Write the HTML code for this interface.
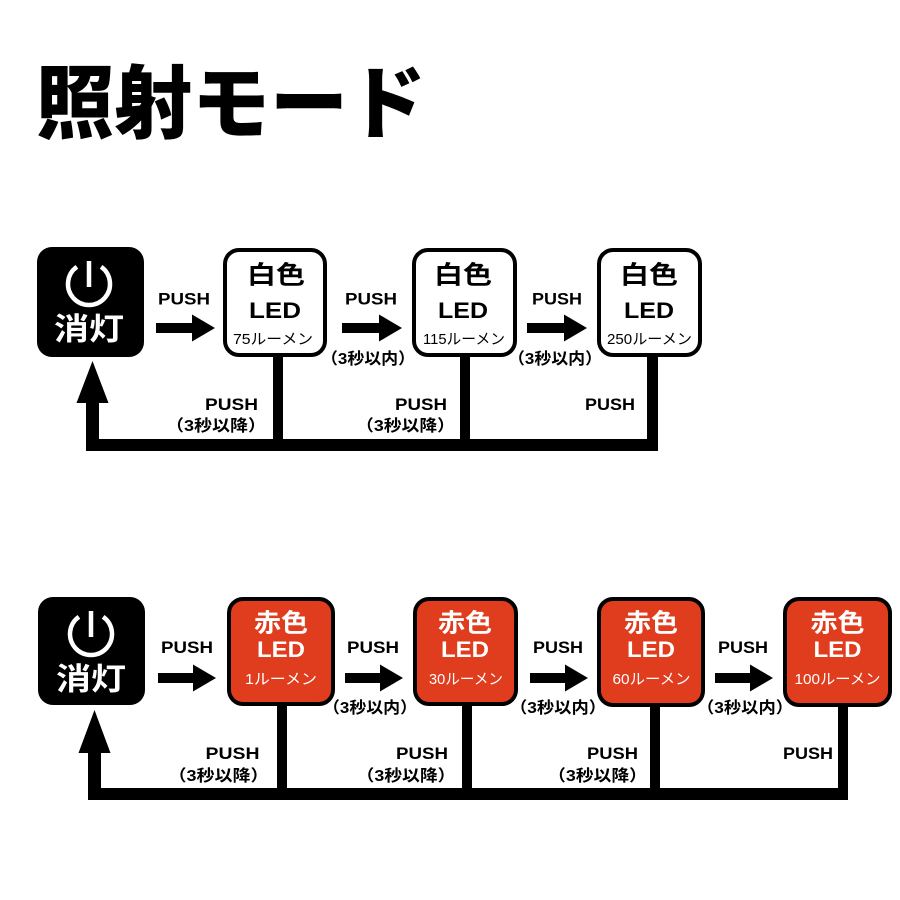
<!DOCTYPE html>
<html><head><meta charset="utf-8"><style>
html,body{margin:0;padding:0;background:#fff;}
svg{display:block;}
.jp{font-family:"Liberation Sans","Noto Sans CJK JP",sans-serif;font-weight:700;}
.lat{font-family:"Liberation Sans",sans-serif;font-weight:700;}
.lm{font-family:"Liberation Sans","Noto Sans CJK JP",sans-serif;font-weight:400;}
</style></head><body>
<svg width="900" height="900" viewBox="0 0 900 900" xmlns="http://www.w3.org/2000/svg">
<rect width="900" height="900" fill="#fff"/>
<!-- Title -->
<text x="36" y="132" class="jp" font-size="80" style="font-weight:900" fill="#000" textLength="390" lengthAdjust="spacingAndGlyphs">照射モード</text>

<!-- ========== TOP ROW ========== -->
<rect x="37" y="247" width="107" height="110" rx="15" fill="#000"/>
<path d="M 76.9 266.8 A 21 21 0 1 0 101.1 266.8" fill="none" stroke="#fff" stroke-width="4.5"/>
<line x1="89" y1="261" x2="89" y2="287" stroke="#fff" stroke-width="4.5"/>
<text x="89" y="340" class="jp" font-size="31" fill="#fff" text-anchor="middle" textLength="70" lengthAdjust="spacingAndGlyphs">消灯</text>

<rect x="225" y="250" width="100" height="105" rx="14" fill="#fff" stroke="#000" stroke-width="4"/>
<rect x="414" y="250" width="101" height="105" rx="14" fill="#fff" stroke="#000" stroke-width="4"/>
<rect x="599" y="250" width="101" height="105" rx="14" fill="#fff" stroke="#000" stroke-width="4"/>

<g fill="#000">
<text x="276" y="283.5" class="jp" font-size="25" text-anchor="middle" textLength="58" lengthAdjust="spacingAndGlyphs">白色</text>
<text x="275" y="318" class="lat" font-size="22" text-anchor="middle" textLength="52" lengthAdjust="spacingAndGlyphs">LED</text>
<text x="273" y="344" class="lm" font-size="15" text-anchor="middle" textLength="80" lengthAdjust="spacingAndGlyphs">75ルーメン</text>

<text x="463" y="283.5" class="jp" font-size="25" text-anchor="middle" textLength="58" lengthAdjust="spacingAndGlyphs">白色</text>
<text x="463" y="318" class="lat" font-size="22" text-anchor="middle" textLength="50" lengthAdjust="spacingAndGlyphs">LED</text>
<text x="464" y="344" class="lm" font-size="15" text-anchor="middle" textLength="82" lengthAdjust="spacingAndGlyphs">115ルーメン</text>

<text x="649" y="283.5" class="jp" font-size="25" text-anchor="middle" textLength="58" lengthAdjust="spacingAndGlyphs">白色</text>
<text x="649" y="318" class="lat" font-size="22" text-anchor="middle" textLength="50" lengthAdjust="spacingAndGlyphs">LED</text>
<text x="649.5" y="344" class="lm" font-size="15" text-anchor="middle" textLength="85" lengthAdjust="spacingAndGlyphs">250ルーメン</text>
</g>

<g fill="#000">
<rect x="156" y="323" width="37" height="10"/><polygon points="192,314.5 215,328 192,341.5"/>
<rect x="342" y="323" width="38" height="10"/><polygon points="379,314.5 402,328 379,341.5"/>
<rect x="527" y="323" width="38" height="10"/><polygon points="564,314.5 587,328 564,341.5"/>
</g>
<g fill="#000">
<text x="184" y="304.5" class="lat" font-size="17" text-anchor="middle" textLength="52" lengthAdjust="spacingAndGlyphs">PUSH</text>
<text x="371" y="304.5" class="lat" font-size="17" text-anchor="middle" textLength="52" lengthAdjust="spacingAndGlyphs">PUSH</text>
<text x="557" y="304.5" class="lat" font-size="17" text-anchor="middle" textLength="50" lengthAdjust="spacingAndGlyphs">PUSH</text>
<text x="368" y="364" class="jp" font-size="16" text-anchor="middle" textLength="94" lengthAdjust="spacingAndGlyphs">（3秒以内）</text>
<text x="555" y="364" class="jp" font-size="16" text-anchor="middle" textLength="94" lengthAdjust="spacingAndGlyphs">（3秒以内）</text>
</g>

<g fill="#000">
<rect x="273" y="357" width="10" height="94"/>
<rect x="460" y="357" width="10" height="94"/>
<rect x="647" y="357" width="11" height="94"/>
<rect x="86" y="439" width="572" height="12"/>
<rect x="86" y="400" width="13" height="51"/>
<polygon points="92.5,361 108.5,403 76.5,403"/>
<text x="231.5" y="410" class="lat" font-size="17" text-anchor="middle" textLength="53" lengthAdjust="spacingAndGlyphs">PUSH</text>
<text x="216" y="431" class="jp" font-size="16" text-anchor="middle" textLength="100" lengthAdjust="spacingAndGlyphs">（3秒以降）</text>
<text x="421" y="410" class="lat" font-size="17" text-anchor="middle" textLength="52" lengthAdjust="spacingAndGlyphs">PUSH</text>
<text x="405.5" y="431" class="jp" font-size="16" text-anchor="middle" textLength="99" lengthAdjust="spacingAndGlyphs">（3秒以降）</text>
<text x="610" y="410" class="lat" font-size="17" text-anchor="middle" textLength="50" lengthAdjust="spacingAndGlyphs">PUSH</text>
</g>

<!-- ========== BOTTOM ROW ========== -->
<rect x="38" y="597" width="107" height="108" rx="15" fill="#000"/>
<path d="M 78.9 616.8 A 21 21 0 1 0 103.1 616.8" fill="none" stroke="#fff" stroke-width="4.5"/>
<line x1="91" y1="611" x2="91" y2="637" stroke="#fff" stroke-width="4.5"/>
<text x="91" y="690" class="jp" font-size="31" fill="#fff" text-anchor="middle" textLength="70" lengthAdjust="spacingAndGlyphs">消灯</text>

<g fill="#E03C1E" stroke="#000" stroke-width="4">
<rect x="229" y="599" width="104" height="105" rx="14"/>
<rect x="415" y="599" width="101" height="105" rx="14"/>
<rect x="599" y="599" width="104" height="106" rx="14"/>
<rect x="785" y="599" width="105" height="106" rx="14"/>
</g>

<g fill="#fff">
<text x="281" y="631.5" class="jp" font-size="25" text-anchor="middle" textLength="54" lengthAdjust="spacingAndGlyphs">赤色</text>
<text x="281" y="657" class="lat" font-size="22" text-anchor="middle" textLength="48" lengthAdjust="spacingAndGlyphs">LED</text>
<text x="281" y="684" class="lm" font-size="15" text-anchor="middle" textLength="72" lengthAdjust="spacingAndGlyphs">1ルーメン</text>

<text x="465" y="631.5" class="jp" font-size="25" text-anchor="middle" textLength="54" lengthAdjust="spacingAndGlyphs">赤色</text>
<text x="465" y="657" class="lat" font-size="22" text-anchor="middle" textLength="48" lengthAdjust="spacingAndGlyphs">LED</text>
<text x="466" y="684" class="lm" font-size="15" text-anchor="middle" textLength="74" lengthAdjust="spacingAndGlyphs">30ルーメン</text>

<text x="651" y="631.5" class="jp" font-size="25" text-anchor="middle" textLength="54" lengthAdjust="spacingAndGlyphs">赤色</text>
<text x="651" y="657" class="lat" font-size="22" text-anchor="middle" textLength="48" lengthAdjust="spacingAndGlyphs">LED</text>
<text x="651.5" y="684" class="lm" font-size="15" text-anchor="middle" textLength="78" lengthAdjust="spacingAndGlyphs">60ルーメン</text>

<text x="837.5" y="631.5" class="jp" font-size="25" text-anchor="middle" textLength="54" lengthAdjust="spacingAndGlyphs">赤色</text>
<text x="837.5" y="657" class="lat" font-size="22" text-anchor="middle" textLength="48" lengthAdjust="spacingAndGlyphs">LED</text>
<text x="837.5" y="684" class="lm" font-size="15" text-anchor="middle" textLength="86" lengthAdjust="spacingAndGlyphs">100ルーメン</text>
</g>

<g fill="#000">
<rect x="158" y="673" width="36" height="10"/><polygon points="193,664.5 216,678 193,691.5"/>
<rect x="345" y="673" width="36" height="10"/><polygon points="380,664.5 403,678 380,691.5"/>
<rect x="530" y="673" width="36" height="10"/><polygon points="565,664.5 588,678 565,691.5"/>
<rect x="715" y="673" width="36" height="10"/><polygon points="750,664.5 773,678 750,691.5"/>

<text x="187" y="653" class="lat" font-size="17" text-anchor="middle" textLength="52" lengthAdjust="spacingAndGlyphs">PUSH</text>
<text x="373" y="653" class="lat" font-size="17" text-anchor="middle" textLength="52" lengthAdjust="spacingAndGlyphs">PUSH</text>
<text x="558" y="653" class="lat" font-size="17" text-anchor="middle" textLength="50" lengthAdjust="spacingAndGlyphs">PUSH</text>
<text x="743" y="653" class="lat" font-size="17" text-anchor="middle" textLength="50" lengthAdjust="spacingAndGlyphs">PUSH</text>
<text x="370" y="713" class="jp" font-size="16" text-anchor="middle" textLength="94" lengthAdjust="spacingAndGlyphs">（3秒以内）</text>
<text x="558" y="713" class="jp" font-size="16" text-anchor="middle" textLength="96" lengthAdjust="spacingAndGlyphs">（3秒以内）</text>
<text x="745" y="713" class="jp" font-size="16" text-anchor="middle" textLength="96" lengthAdjust="spacingAndGlyphs">（3秒以内）</text>

<rect x="277" y="705" width="10" height="95"/>
<rect x="462" y="705" width="10" height="95"/>
<rect x="650" y="706" width="10" height="94"/>
<rect x="838" y="706" width="10" height="94"/>
<rect x="88" y="788" width="760" height="12"/>
<rect x="88" y="750" width="13" height="50"/>
<polygon points="94.5,710 110.5,753 78.5,753"/>

<text x="232.5" y="759" class="lat" font-size="17" text-anchor="middle" textLength="54" lengthAdjust="spacingAndGlyphs">PUSH</text>
<text x="218.5" y="781" class="jp" font-size="16" text-anchor="middle" textLength="100" lengthAdjust="spacingAndGlyphs">（3秒以降）</text>
<text x="422" y="759" class="lat" font-size="17" text-anchor="middle" textLength="52" lengthAdjust="spacingAndGlyphs">PUSH</text>
<text x="406" y="781" class="jp" font-size="16" text-anchor="middle" textLength="99" lengthAdjust="spacingAndGlyphs">（3秒以降）</text>
<text x="612.5" y="759" class="lat" font-size="17" text-anchor="middle" textLength="51" lengthAdjust="spacingAndGlyphs">PUSH</text>
<text x="597.5" y="781" class="jp" font-size="16" text-anchor="middle" textLength="99" lengthAdjust="spacingAndGlyphs">（3秒以降）</text>
<text x="808" y="759" class="lat" font-size="17" text-anchor="middle" textLength="50" lengthAdjust="spacingAndGlyphs">PUSH</text>
</g>
</svg>
</body></html>
